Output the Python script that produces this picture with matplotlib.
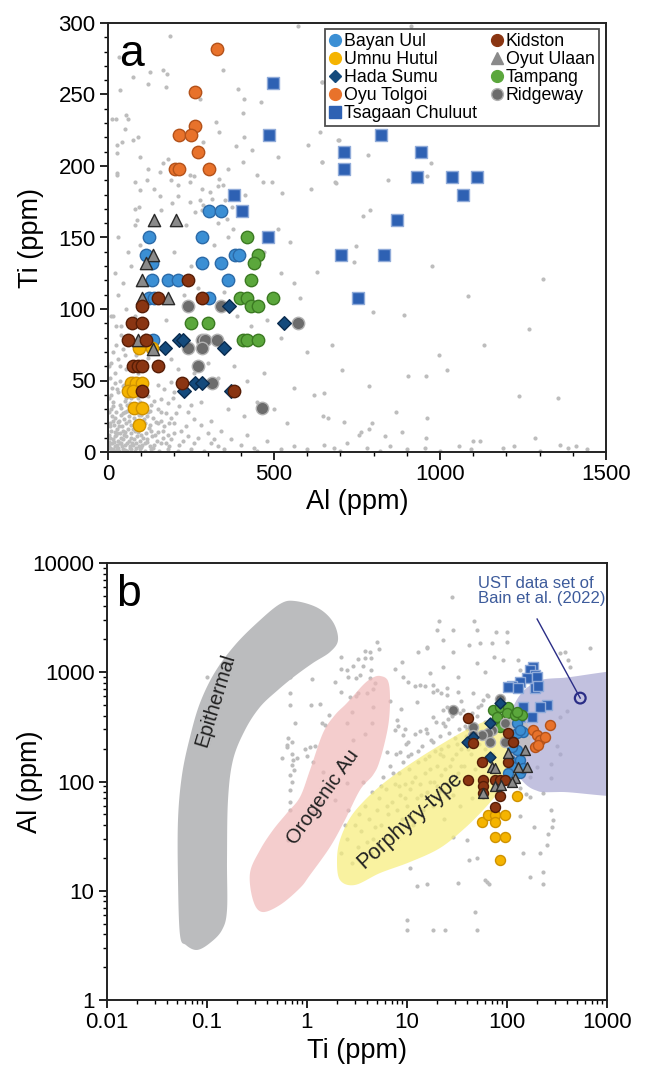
import numpy as np
import matplotlib
matplotlib.use('Agg')
import matplotlib.pyplot as plt
from matplotlib.patches import Polygon
from matplotlib.lines import Line2D
from matplotlib.ticker import MultipleLocator, LogLocator, FuncFormatter, NullFormatter

plt.rcParams['font.family'] = ['Liberation Sans', 'DejaVu Sans']

# ---------------- data : panel a (Al on x, Ti on y) ----------------
bayan_al = [303, 340, 123, 282, 113, 134, 282, 340, 382, 395, 134, 181, 212, 360, 123, 140, 304, 136]
bayan_ti = [168.5, 168.5, 150.5, 150.5, 138, 132, 132, 132, 138, 138, 120, 120, 120, 120, 108, 108, 108, 78]
umnu_al = [94, 134, 69, 83, 103, 59, 76, 79, 103, 93]
umnu_ti = [72.5, 72.5, 48, 48, 48, 42.4, 42.4, 30.5, 30.5, 18.9]
hada_al = [364, 531, 214, 227, 172, 350, 262, 284, 230, 370]
hada_ti = [102, 90, 78, 78, 72.5, 72.5, 48, 48, 42.4, 42.4]
oyu_al = [327, 262, 262, 214, 250, 270, 202, 214, 303]
oyu_ti = [282, 252, 228, 222, 222, 210, 198, 198, 198]
tsag_al = [497, 484, 380, 404, 711, 711, 821, 943, 932, 1035, 1112, 1070, 869, 701, 832, 754, 483]
tsag_ti = [258, 222, 180, 168.5, 210, 198, 222, 210, 192.5, 192.5, 192.5, 180, 162, 138, 138, 108, 150.5]
kid_al = [240, 150, 282, 101, 71, 101, 59, 113, 76, 89, 101, 150, 224, 101, 380]
kid_ti = [120, 108, 108, 102, 90, 90, 78, 78, 60.4, 60.4, 60.4, 60.4, 48, 42.4, 42.4]
oyut_al = [139, 204, 136, 113, 101, 101, 181, 89, 136]
oyut_ti = [162, 162, 138, 132, 120, 108, 108, 78, 72]
tamp_al = [418, 453, 440, 431, 398, 418, 498, 431, 453, 250, 302, 408, 418, 453]
tamp_ti = [150.5, 138, 132, 120, 108, 108, 108, 102, 102, 90, 90, 78, 78, 78]
ridge_al = [240, 340, 573, 282, 292, 327, 240, 282, 270, 314, 463]
ridge_ti = [102, 102, 90, 78, 78, 78, 72.5, 72.5, 60.4, 48, 30.5]

# ---------------- data : panel b (Ti on x, Al on y) ----------------
b_tsag_ti = [183, 170, 190, 157, 198, 135, 111, 103, 130, 190, 206, 249, 214, 146, 177, 135]
b_tsag_al = [1125, 1050, 944, 880, 910, 820, 749, 738, 713, 713, 749, 501, 484, 484, 392, 392]
b_ridge_ti = [85, 29, 95.5, 46, 70, 65, 56, 68, 95.5, 46]
b_ridge_al = [565, 451, 341, 318, 296, 276, 267, 231, 231, 267]
b_tamp_ti = [73, 85, 103, 99, 120, 140, 79, 85, 125]
b_tamp_al = [451, 484, 484, 421, 406, 406, 392, 318, 435]
b_hada_ti = [85, 68, 46, 39.5, 68]
b_hada_al = [520, 341, 257, 231, 169]
b_bayan_ti = [125, 146, 125, 116, 125, 107, 116, 103, 135, 135, 146, 135, 111]
b_bayan_al = [341, 286, 276, 231, 194, 157, 137, 119, 119, 157, 132, 296, 208]
b_oyu_ti = [183, 269, 198, 214, 190, 240, 206]
b_oyu_al = [296, 329, 267, 240, 208, 257, 216]
b_kid_ti = [41, 46, 103, 116, 56, 103, 58, 58, 58, 41, 76, 85, 95.5, 85, 76]
b_kid_al = [378, 224, 276, 231, 152, 152, 103, 90, 78, 103, 103, 103, 103, 73, 59]
b_oyut_ti = [103, 151, 70, 76, 130, 157, 120, 111, 76, 88, 58]
b_oyut_al = [181, 194, 137, 132, 137, 137, 107, 100, 90, 93, 78]
b_umnu_ti = [125, 56, 65, 76, 95.5, 76, 76, 95.5, 85]
b_umnu_al = [73, 43, 49, 49, 49, 43, 31, 31, 19]

# background UST data (panel a): (Al, Ti)
gray_a = [
    (912, 298), (645, 259), (696, 218), (784, 208), (645, 203), (973, 202), (960, 193), (844, 190), (686, 188),
    (789, 169), (769, 165), (573, 298), (187, 291), (347, 267), (126, 266), (165, 267), (177, 264), (76, 262),
    (121, 257), (174, 255), (35, 253), (392, 254), (410, 247), (276, 247), (460, 245), (644, 259), (13, 233),
    (24, 233), (54, 236), (59, 233), (51, 226), (406, 237), (324, 231), (334, 224), (91, 220), (76, 218), (43, 217),
    (410, 220), (602, 215), (639, 224), (694, 218), (285, 217), (387, 214), (433, 211), (26, 209), (96, 206),
    (182, 205), (167, 202), (408, 203), (511, 206), (644, 203), (26, 194), (119, 198), (157, 196), (247, 194),
    (260, 193), (362, 198), (335, 191), (81, 189), (116, 190), (190, 190), (247, 189), (448, 194), (468, 189),
    (493, 189), (523, 181), (610, 184), (684, 189), (96, 183), (139, 184), (157, 179), (210, 179), (210, 187),
    (282, 184), (307, 182), (330, 186), (347, 187), (192, 174), (247, 175), (277, 176), (287, 173), (312, 177),
    (352, 176), (81, 170), (94, 171), (160, 169), (262, 168), (284, 169), (372, 171), (413, 180), (136, 163),
    (88, 162), (357, 163), (33, 276), (26, 195), (27, 215),
    (81, 159), (235, 159), (330, 160), (377, 156), (513, 156), (548, 147), (629, 126), (578, 108), (30, 150),
    (60, 140), (20, 125), (45, 118), (70, 130), (95, 145), (200, 140), (250, 130), (320, 145), (360, 150),
    (470, 140), (520, 125), (560, 118), (30, 110), (55, 100), (15, 95), (40, 88), (80, 95), (110, 82), (175, 92),
    (230, 110), (270, 115), (350, 112), (390, 95), (430, 88), (480, 92), (520, 80), (600, 70), (25, 75), (50, 68),
    (35, 60), (65, 62), (90, 55), (120, 66), (190, 65), (210, 58), (260, 55), (300, 62), (330, 52), (380, 60),
    (420, 50), (470, 55), (560, 45), (620, 40), (540, 20), (500, 30), (450, 35), (410, 25), (360, 30), (310, 22),
    (280, 35),
    (10, 95), (25, 88), (40, 82), (60, 90), (15, 70), (30, 65), (45, 72), (70, 80), (85, 68), (20, 55), (35, 50),
    (55, 58), (75, 52), (100, 60), (12, 45), (28, 44), (48, 47), (68, 42), (88, 48), (110, 45),
    (20, 48), (45, 46), (60, 50), (75, 45), (150, 47), (170, 44), (190, 49),
    (10, 40), (30, 42), (55, 38), (85, 41), (120, 39), (160, 37), (200, 42), (230, 40),
    (15, 35), (35, 33), (50, 36), (65, 34), (95, 35), (110, 33), (140, 36), (180, 34), (215, 32),
    (8, 30), (25, 28), (40, 31), (58, 29), (72, 30), (88, 28), (105, 31), (125, 29), (150, 30), (175, 27), (240, 28),
    (12, 25), (22, 24), (38, 26), (48, 23), (62, 25), (78, 24), (92, 26), (108, 23), (118, 25), (135, 24),
    (160, 22), (190, 24), (260, 23),
    (5, 20), (18, 19), (30, 21), (42, 18), (55, 20), (68, 19), (80, 21), (95, 18), (112, 20), (128, 19),
    (145, 21), (170, 18), (200, 20), (280, 19),
    (10, 15), (20, 14), (28, 16), (36, 13), (45, 15), (52, 14), (60, 16), (70, 13), (82, 15), (90, 14), (100, 16),
    (115, 13), (130, 15), (150, 14), (180, 12), (220, 15), (300, 13),
    (6, 10), (14, 9), (22, 11), (30, 8), (38, 10), (46, 9), (54, 11), (62, 8), (70, 10), (78, 9), (86, 11), (95, 8),
    (105, 10), (118, 9), (132, 11), (148, 8), (165, 10), (190, 9), (240, 11), (320, 9),
    (4, 5), (12, 6), (20, 4), (28, 5), (35, 6), (42, 4), (50, 5), (58, 6), (66, 4), (75, 5), (84, 6), (92, 4),
    (102, 5), (112, 6), (125, 4), (140, 5), (160, 6), (185, 4), (215, 5), (260, 6), (330, 4), (400, 5),
    (8, 2), (18, 1), (26, 2), (34, 1), (44, 2), (56, 1), (68, 2), (80, 1), (96, 2), (110, 1), (130, 2), (155, 1),
    (180, 2), (210, 1), (250, 2), (290, 1), (350, 2), (450, 1), (520, 2),
    (3, 60), (6, 52), (4, 38), (2, 28), (5, 18), (3, 12), (2, 7), (7, 3), (10, 62), (14, 32), (16, 22), (24, 12),
    (32, 18), (40, 6), (48, 12), (52, 28), (64, 22), (72, 6), (76, 16), (84, 30), (98, 12), (104, 22), (116, 7),
    (124, 17), (136, 3), (142, 12), (150, 20), (165, 15), (175, 6), (200, 13), (205, 27), (225, 8), (235, 18),
    (270, 10), (310, 6), (340, 15), (370, 9), (420, 12), (440, 3), (480, 8), (15, 2), (30, 3), (50, 1.5), (65, 3),
    (85, 2.5), (100, 3.5), (18, 7), (26, 13), (34, 22), (44, 27), (58, 33), (70, 38), (90, 38), (120, 28),
    (100, 26), (130, 33), (160, 28), (185, 20), (195, 38), (250, 33),
    (560, 4), (600, 2), (650, 5), (680, 3), (700, 1), (720, 6), (756, 12), (761, 14), (786, 16), (794, 20),
    (712, 21), (647, 25), (664, 24), (867, 28), (962, 24), (834, 11), (885, 14), (957, 10), (1286, 10), (1100, 8),
    (780, 3), (820, 1), (850, 4), (900, 2), (955, 3), (1000, 1), (1056, 4), (1093, 2), (1120, 8), (1189, 3),
    (1224, 4), (1300, 1), (1386, 3), (1410, 4), (1442, 2), (1360, 5),
    (747, 144), (741, 133), (975, 130), (1309, 121), (1083, 109), (799, 98), (892, 96), (1269, 86), (675, 75),
    (1133, 75), (997, 68), (706, 57), (1020, 57), (903, 53), (957, 53), (786, 46), (651, 41), (1239, 39), (1356, 38),
]

# background UST data (panel b): (Ti, Al)
gray_b = [
    (0.1, 900), (0.68, 900), (0.68, 640), (0.68, 500), (1.13, 865), (1.9, 820), (2.6, 910), (3.1, 880), (3.4, 940),
    (4.3, 880), (4.8, 790), (2.2, 660), (1.1, 500), (1.35, 510), (3.1, 600), (4.6, 710), (1.65, 410), (6.8, 550),
    (0.76, 340), (1.4, 340), (1.5, 330), (5.0, 1900), (3.8, 1570), (4.3, 1540), (5.2, 1620), (2.2, 1390),
    (3.2, 1330), (3.8, 1360), (4.4, 1360), (12.8, 1530), (16, 1670), (9.0, 1230), (2.2, 1070), (2.5, 1050),
    (2.9, 1130), (3.6, 1140), (4.4, 1050), (7.6, 1070), (9.2, 910), (10.3, 810), (12, 750), (13.5, 760), (15, 750),
    (18, 760), (19.8, 690), (22, 640), (25, 620), (8.8, 460), (12.5, 530), (7.9, 365), (8.2, 320), (9.5, 305),
    (7.6, 296), (9.2, 266), (10.3, 230), (13.5, 290), (15.7, 280), (23, 340), (26, 370), (0.65, 250), (0.7, 230),
    (0.95, 200), (1.0, 170), (1.2, 210), (6.3, 185), (8.5, 185), (21.4, 180), (0.56, 163), (0.63, 205),
    (0.7, 180), (0.72, 157), (0.7, 142), (0.74, 127), (0.68, 115), (0.7, 100), (0.68, 83), (0.68, 65), (0.68, 55),
    (0.65, 29),
    (21, 2950), (20, 2440), (23, 1970), (28, 4900), (29, 2440), (47, 2950), (50, 2440), (78, 2330), (70, 1850),
    (100, 2330), (100, 1890), (16, 1690), (29, 1530), (42, 1780), (54, 1850), (130, 1300), (135, 1050), (17, 980),
    (23, 1120), (32, 900), (50, 1220), (60, 1000), (74, 1380), (91, 1300), (340, 1500), (380, 1530), (410, 1300),
    (430, 1120), (680, 1670), (18, 660), (25, 720), (32, 660), (46, 640), (57, 557), (51, 480), (25, 480),
    (34, 420), (18, 390), (23, 450), (63, 620), (340, 390), (400, 440),
    (316, 210), (340, 180), (277, 145), (200, 135), (170, 110), (135, 88), (155, 77), (277, 108), (230, 78),
    (290, 44), (280, 38), (255, 33), (230, 15), (170, 13.5), (170, 72), (135, 48), (185, 38), (277, 55), (250, 26),
    (145, 22), (214, 22), (63, 12), (60, 12.5), (66, 11.5), (230, 11.5), (42, 19), (29, 31),
    (10, 5.4), (10, 4.4), (18, 4.4), (24, 4.4), (12.5, 11), (15.7, 11.5), (48, 6.4), (50, 4.4), (10.7, 16),
    (32, 11.8), (50, 20), (40, 29),
    (0.63, 215), (0.79, 165), (1.07, 205), (1.15, 150), (1.45, 123), (1.7, 89), (2.5, 97), (1.35, 63), (1.9, 68),
    (1.15, 53), (2.7, 590), (3.2, 640), (4.0, 640), (2.8, 430), (4.6, 480), (4.5, 340), (2.5, 340), (3.8, 275),
    (2.9, 240),
    (40, 300), (45, 420), (55, 500), (35, 550), (60, 350), (70, 450), (80, 520), (65, 600), (48, 250), (85, 380),
    (90, 250),
    (2.2, 22), (2.5, 30), (2.8, 18), (3.0, 40), (2.6, 55), (3.2, 25), (3.5, 35), (3.8, 60), (4.0, 28), (4.2, 45),
    (4.5, 80), (4.8, 38), (3.6, 100), (4.4, 22), (5.0, 55), (5.2, 70), (5.5, 40), (5.8, 110), (6.0, 30), (6.2, 85),
    (6.5, 50), (6.8, 140), (7.0, 65), (7.2, 35), (7.5, 95), (7.8, 180), (8.0, 55), (8.3, 120), (8.6, 75), (9.0, 45),
    (9.2, 150), (9.5, 95), (9.8, 220), (10, 60), (10.5, 130), (10.8, 85), (11, 180), (11.5, 40), (12, 110),
    (12, 270), (12.5, 70), (13, 150), (13.5, 95), (14, 210), (14.5, 55), (15, 120), (15.5, 300), (16, 80),
    (16.5, 170), (17, 130), (17.5, 240), (18, 60), (18.5, 100), (19, 190), (19.5, 350), (20, 140), (21, 80),
    (21.5, 260), (22, 115), (23, 170), (23.5, 45), (24, 320), (25, 95), (26, 210), (27, 140), (28, 400), (29, 75),
    (30, 250), (31, 180), (32, 120), (33, 300), (34, 60), (35, 200), (36, 450), (37, 140), (39, 260), (40, 100),
    (42, 350), (44, 180), (45, 70), (47, 230), (48, 130), (50, 400), (52, 160), (55, 280), (58, 100), (60, 200),
    (63, 350), (66, 130), (70, 250), (73, 180), (76, 90), (80, 300),
    (2.4, 40), (3.3, 50), (4.6, 30), (5.5, 90), (6.3, 60), (7.3, 120), (8.4, 90), (9.6, 70), (10.2, 170),
    (11.2, 100), (12.8, 190), (13.8, 75), (15.2, 160), (16.8, 100), (18.2, 230), (19.8, 90), (21.8, 200),
    (23.8, 130), (26.5, 280), (28.5, 160), (31.5, 220), (34.5, 140), (38, 320), (41, 200), (46, 300), (53, 220),
    (62, 170), (68, 320),
]

# field outlines for panel b, in log10 units (log Ti, log Al)
epithermal_log = [(-1.27, 0.595), (-1.29, 1.098), (-1.29, 1.648), (-1.25, 2.06), (-1.17, 2.407), (-1.07, 2.719),
                  (-0.92, 3.002), (-0.72, 3.249), (-0.49, 3.46), (-0.27, 3.625), (-0.12, 3.652), (0.11, 3.588),
                  (0.26, 3.46), (0.31, 3.295), (0.23, 3.185), (0.06, 3.085), (-0.12, 2.966), (-0.29, 2.838),
                  (-0.47, 2.682), (-0.62, 2.471), (-0.74, 2.197), (-0.79, 1.831), (-0.80, 1.281), (-0.80, 0.824),
                  (-0.85, 0.641), (-0.97, 0.522), (-1.10, 0.458), (-1.21, 0.503)]
orogenic_log = [(-0.54, 0.915), (-0.57, 1.162), (-0.47, 1.373), (-0.34, 1.556), (-0.20, 1.712), (-0.07, 1.858),
                (0.03, 2.105), (0.16, 2.444), (0.28, 2.609), (0.40, 2.719), (0.56, 2.883), (0.65, 2.947),
                (0.73, 2.966), (0.81, 2.920), (0.83, 2.746), (0.81, 2.499), (0.73, 2.197), (0.66, 2.059),
                (0.53, 1.922), (0.38, 1.648), (0.23, 1.400), (0.03, 1.144), (-0.07, 1.025), (-0.27, 0.870),
                (-0.45, 0.806)]
porphyry_log = [(0.33, 1.098), (0.30, 1.281), (0.33, 1.465), (0.43, 1.666), (0.58, 1.831), (0.78, 1.995),
                (1.03, 2.160), (1.33, 2.334), (1.63, 2.490), (1.88, 2.581), (2.08, 2.600), (2.21, 2.517),
                (2.23, 2.334), (2.15, 2.151), (1.98, 1.968), (1.78, 1.757), (1.58, 1.574), (1.33, 1.391),
                (1.03, 1.263), (0.73, 1.162), (0.48, 1.053)]
ust_log = [(3.6, 2.947), (2.53, 2.947), (2.28, 2.902), (2.13, 2.792), (2.03, 2.609), (1.99, 2.426), (2.03, 2.215),
           (2.13, 2.032), (2.28, 1.922), (2.53, 1.904), (3.6, 1.950)]


def smooth_closed(pts, n_per=20):
    P = np.asarray(pts, float)
    m = len(P)
    t = np.linspace(0, 1, n_per, endpoint=False)[:, None]
    segs = []
    for i in range(m):
        p0, p1, p2, p3 = P[(i - 1) % m], P[i], P[(i + 1) % m], P[(i + 2) % m]
        segs.append(0.5 * (2 * p1 + (-p0 + p2) * t + (2 * p0 - 5 * p1 + 4 * p2 - p3) * t ** 2
                           + (-p0 + 3 * p1 - 3 * p2 + p3) * t ** 3))
    return 10 ** np.vstack(segs)


styles = {
    'Bayan Uul': dict(marker='o', fc='#3b8fd4', ec='#2b6aa8', s=80),
    'Tsagaan Chuluut': dict(marker='s', fc='#2e61b3', ec='#90abd9', s=78),
    'Oyu Tolgoi': dict(marker='o', fc='#e8722b', ec='#b4521a', s=80),
    'Tampang': dict(marker='o', fc='#5ba73c', ec='#3b7a22', s=80),
    'Ridgeway': dict(marker='o', fc='#6c6c6c', ec='#b2b2b2', s=80),
    'Hada Sumu': dict(marker='D', fc='#144a7c', ec='#0a2c4f', s=48),
    'Umnu Hutul': dict(marker='o', fc='#f5b400', ec='#cf9200', s=80),
    'Oyut Ulaan': dict(marker='^', fc='#8a8a8a', ec='#2a2a2a', s=78),
    'Kidston': dict(marker='o', fc='#8a3512', ec='#561d06', s=80),
}
series_a = [
    ('Bayan Uul', bayan_al, bayan_ti), ('Tsagaan Chuluut', tsag_al, tsag_ti), ('Oyu Tolgoi', oyu_al, oyu_ti),
    ('Tampang', tamp_al, tamp_ti), ('Ridgeway', ridge_al, ridge_ti), ('Hada Sumu', hada_al, hada_ti),
    ('Umnu Hutul', umnu_al, umnu_ti), ('Oyut Ulaan', oyut_al, oyut_ti), ('Kidston', kid_al, kid_ti),
]
series_b = [
    ('Tsagaan Chuluut', b_tsag_ti, b_tsag_al), ('Umnu Hutul', b_umnu_ti, b_umnu_al),
    ('Bayan Uul', b_bayan_ti, b_bayan_al), ('Oyu Tolgoi', b_oyu_ti, b_oyu_al), ('Tampang', b_tamp_ti, b_tamp_al),
    ('Ridgeway', b_ridge_ti, b_ridge_al), ('Hada Sumu', b_hada_ti, b_hada_al), ('Kidston', b_kid_ti, b_kid_al),
    ('Oyut Ulaan', b_oyut_ti, b_oyut_al),
]

fig = plt.figure(figsize=(6.5, 10.69), dpi=100)
axa = fig.add_axes([108 / 650, 1 - 452 / 1069, 498 / 650, 429 / 1069])
axb = fig.add_axes([107 / 650, 1 - 1000 / 1069, 500 / 650, 437 / 1069])

gray_col = '#bdbdbd'
label_fs = 19.5
tick_fs = 16

# ---------------- panel a ----------------
ga = np.array(gray_a, float)
axa.scatter(ga[:, 0], ga[:, 1], s=9, color=gray_col, lw=0, zorder=1)
for name, xs, ys in series_a:
    st = styles[name]
    axa.scatter(xs, ys, marker=st['marker'], s=st['s'], facecolor=st['fc'], edgecolor=st['ec'],
                linewidths=1.0, zorder=3)
axa.set_xlim(0, 1500)
axa.set_ylim(0, 300)
axa.xaxis.set_major_locator(MultipleLocator(500))
axa.xaxis.set_minor_locator(MultipleLocator(100))
axa.yaxis.set_major_locator(MultipleLocator(50))
axa.yaxis.set_minor_locator(MultipleLocator(10))
axa.set_xlabel('Al (ppm)', fontsize=label_fs, va='center')
axa.set_ylabel('Ti (ppm)', fontsize=label_fs, va='center')
axa.xaxis.set_label_coords(0.5, -0.117)
axa.yaxis.set_label_coords(-0.155, 0.5)
axa.text(0.022, 0.975, 'a', transform=axa.transAxes, fontsize=32, va='top', ha='left')

legend_order = ['Bayan Uul', 'Umnu Hutul', 'Hada Sumu', 'Oyu Tolgoi', 'Tsagaan Chuluut',
                'Kidston', 'Oyut Ulaan', 'Tampang', 'Ridgeway']
handles = []
for name in legend_order:
    st = styles[name]
    ms = 8.5 if st['marker'] != 'D' else 6.5
    ec = st['ec'] if name == 'Ridgeway' else st['fc']
    handles.append(Line2D([], [], ls='none', marker=st['marker'], markersize=ms, markerfacecolor=st['fc'],
                          markeredgecolor=ec, label=name))
leg = axa.legend(handles=handles, ncol=2, loc='upper right', bbox_to_anchor=(0.985, 0.986), fontsize=12.8,
                 frameon=True, fancybox=False, edgecolor='#222222', handlelength=0.7, handletextpad=0.15,
                 labelspacing=0.06, columnspacing=0.75, borderpad=0.22, borderaxespad=0.0)
leg.get_frame().set_linewidth(1.3)

# ---------------- panel b ----------------
gb = np.array(gray_b, float)
axb.scatter(gb[:, 0], gb[:, 1], s=9, color=gray_col, lw=0, zorder=1)
axb.add_patch(Polygon(smooth_closed(epithermal_log), closed=True, fc='#bbbcbe', ec='none', zorder=2))
axb.add_patch(Polygon(smooth_closed(orogenic_log), closed=True, fc='#f0b8b8', ec='none', alpha=0.7, zorder=2))
axb.add_patch(Polygon(smooth_closed(porphyry_log), closed=True, fc='#f7ee7c', ec='none', alpha=0.72, zorder=2))
axb.add_patch(Polygon(smooth_closed(ust_log), closed=True, fc='#a9a7d2', ec='none', alpha=0.7, zorder=2))

for name, xs, ys in series_b:
    st = styles[name]
    axb.scatter(xs, ys, marker=st['marker'], s=st['s'] * 0.65, facecolor=st['fc'], edgecolor=st['ec'],
                linewidths=1.0, zorder=3)

axb.set_xscale('log')
axb.set_yscale('log')
axb.set_xlim(0.01, 1000)
axb.set_ylim(1, 10000)
fmt = FuncFormatter(lambda v, p: '%g' % v)
axb.xaxis.set_major_locator(LogLocator(base=10, numticks=10))
axb.yaxis.set_major_locator(LogLocator(base=10, numticks=10))
axb.xaxis.set_minor_locator(LogLocator(base=10, subs=np.arange(2, 10), numticks=50))
axb.yaxis.set_minor_locator(LogLocator(base=10, subs=np.arange(2, 10), numticks=50))
axb.xaxis.set_major_formatter(fmt)
axb.yaxis.set_major_formatter(fmt)
axb.xaxis.set_minor_formatter(NullFormatter())
axb.yaxis.set_minor_formatter(NullFormatter())
axb.set_xlabel('Ti (ppm)', fontsize=label_fs, va='center')
axb.set_ylabel('Al (ppm)', fontsize=label_fs, va='center')
axb.xaxis.set_label_coords(0.5, -0.117)
axb.yaxis.set_label_coords(-0.154, 0.5)
axb.text(0.018, 0.975, 'b', transform=axb.transAxes, fontsize=32, va='top', ha='left')

axb.text(0.12, 550, 'Epithermal', rotation=73, fontsize=14.5, ha='center', va='center', zorder=4,
         color='#222222')
axb.text(1.45, 72, 'Orogenic Au', rotation=55, fontsize=14.5, ha='center', va='center', zorder=4,
         color='#222222')
axb.text(10.7, 44, 'Porphyry-type', rotation=42, fontsize=15.5, ha='center', va='center', zorder=4,
         color='#222222')

axb.plot([200, 540], [3070, 580], color='#2a2d86', lw=1.0, zorder=5)
axb.scatter([540], [580], s=60, facecolor='none', edgecolor='#2a2d86', linewidths=1.6, zorder=5)
axb.text(51, 7600, 'UST data set of\nBain et al. (2022)', fontsize=12, color='#3d5b9b', ha='left', va='top',
         linespacing=1.0, zorder=5)

for ax in (axa, axb):
    for sp in ax.spines.values():
        sp.set_linewidth(1.4)
        sp.set_color('#222222')
    ax.tick_params(which='major', direction='out', length=6, width=1.2, labelsize=tick_fs, top=False, right=False,
                   pad=3)
    ax.tick_params(which='minor', direction='out', length=3, width=1.0, top=False, right=False)

fig.savefig('out.png', dpi=100)
